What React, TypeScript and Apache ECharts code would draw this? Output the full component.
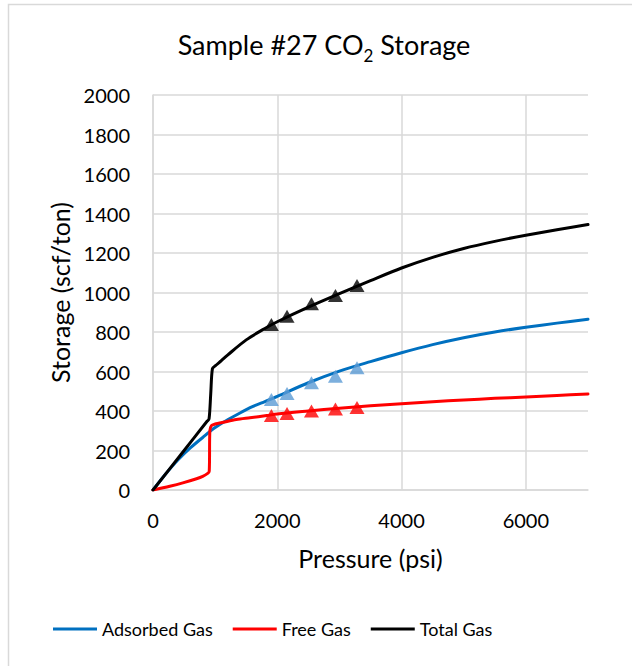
import React, { useEffect, useRef } from "react";
import * as echarts from "echarts";

// Pressure (psi) / storage (scf/ton) pairs for each modelled curve
const adsorbedPressure = [0, 200, 400, 600, 800, 1000, 1200, 1400, 1600, 1800, 2000, 2500, 3000, 3500, 4000, 4500, 5000, 5500, 6000, 6500, 7000];
const adsorbedStorage = [0, 80, 152, 213, 266, 316, 355, 390, 422, 448, 474, 543, 602, 650, 695, 736, 771, 800, 824, 845, 865];

const freePressure = [0, 270, 480, 700, 800, 880, 905, 915, 940, 1000, 1130, 1340, 1560, 1830, 2000, 2500, 3000, 3500, 4000, 4500, 5000, 5500, 6000, 6500, 7000];
const freeStorage = [0, 19, 36, 57, 69, 84, 95, 300, 326, 334, 343, 357, 366, 377, 385, 400, 414, 426, 437, 447, 456, 464, 471, 479, 486];

const totalPressure = [0, 450, 870, 902, 929, 956, 1000, 1100, 1200, 1500, 1800, 2000, 2500, 3000, 3500, 4000, 4500, 5000, 5500, 6000, 6500, 7000];
const totalStorage = [0, 180, 348, 360, 487, 614, 628, 655, 683, 760, 818, 852, 926, 994, 1060, 1124, 1178, 1223, 1259, 1290, 1318, 1344];

// Measured points
const measuredPressure = [1905, 2157, 2550, 2936, 3283];
const measuredAdsorbed = [458, 489, 543, 576, 619];
const measuredFree = [377, 387, 400, 410, 418];
const measuredTotal = [838, 880, 943, 985, 1035];

const legendNames = ["Adsorbed Gas", "Free Gas", "Total Gas"];
const xTicks = { min: 0, max: 7000, interval: 2000 };
const yTicks = { min: 0, max: 2000, interval: 200 };

const FONT = "Lato";
const GRID = "#d9d9d9";

const pairs = (xs: number[], ys: number[]) => xs.map((x, i) => [x, ys[i]]);
const plain = (v: number) => String(v);

export default function App() {
  const ref = useRef<HTMLDivElement>(null);

  useEffect(() => {
    document.body.style.margin = "0";
    const chart = echarts.init(ref.current!, undefined, { renderer: "svg" });

    const curve = (name: string, xs: number[], ys: number[], color: string) => ({
      name,
      type: "line",
      data: pairs(xs, ys),
      symbol: "none",
      showSymbol: false,
      smooth: 0.3,
      lineStyle: { color, width: 3, cap: "round", join: "round" },
      itemStyle: { color },
      z: 2,
    });
    const marks = (name: string, ys: number[], color: string) => ({
      name,
      type: "scatter",
      data: pairs(measuredPressure, ys),
      symbol: "triangle",
      symbolSize: [15, 13],
      itemStyle: { color },
      z: 3,
    });

    chart.setOption({
      animation: false,
      backgroundColor: "#ffffff",
      textStyle: { fontFamily: FONT },
      grid: { left: 153, top: 95, width: 435, height: 395 },
      graphic: [
        {
          type: "rect",
          shape: { x: 8.5, y: 4.5, width: 800, height: 800 },
          style: { fill: "none", stroke: GRID, lineWidth: 1.5 },
          silent: true,
        },
        {
          type: "text",
          x: 324,
          y: 44,
          style: {
            text: "Sample #27 CO{sub|2} Storage",
            fontFamily: FONT,
            fontSize: 27,
            fill: "#000",
            align: "center",
            verticalAlign: "middle",
            lineHeight: 40,
            rich: {
              sub: { fontFamily: FONT, fontSize: 17, lineHeight: 18, verticalAlign: "bottom", fill: "#000" },
            },
          },
        },
      ],
      legend: {
        data: legendNames,
        icon: "rect",
        left: 53,
        top: 620,
        padding: 0,
        itemWidth: 44,
        itemHeight: 3,
        itemGap: 20,
        textStyle: { fontFamily: FONT, fontSize: 18, color: "#000" },
      },
      xAxis: {
        type: "value",
        ...xTicks,
        name: "Pressure (psi)",
        nameLocation: "middle",
        nameGap: 55,
        nameTextStyle: { fontFamily: FONT, fontSize: 25, color: "#000" },
        axisLine: { show: true, lineStyle: { color: GRID, width: 1.5 } },
        axisTick: { show: false },
        axisLabel: { fontFamily: FONT, fontSize: 20, color: "#000", margin: 20, showMaxLabel: false, formatter: plain },
        splitLine: { show: true, showMaxLine: false, lineStyle: { color: GRID, width: 1.5 } },
      },
      yAxis: {
        type: "value",
        ...yTicks,
        name: "Storage (scf/ton)",
        nameLocation: "middle",
        nameGap: 81,
        nameTextStyle: { fontFamily: FONT, fontSize: 25, color: "#000" },
        axisLine: { show: true, lineStyle: { color: GRID, width: 1.5 } },
        axisTick: { show: false },
        axisLabel: { fontFamily: FONT, fontSize: 20, color: "#000", margin: 23, formatter: plain },
        splitLine: { show: true, lineStyle: { color: GRID, width: 1.5 } },
      },
      series: [
        curve(legendNames[0], adsorbedPressure, adsorbedStorage, "#0070c0"),
        curve(legendNames[1], freePressure, freeStorage, "#ff0000"),
        curve(legendNames[2], totalPressure, totalStorage, "#000000"),
        marks("Adsorbed Gas (measured)", measuredAdsorbed, "#5b9bd5"),
        marks("Free Gas (measured)", measuredFree, "#ff0000"),
        marks("Total Gas (measured)", measuredTotal, "#000000"),
      ],
    });

    return () => chart.dispose();
  }, []);

  return <div ref={ref} style={{ width: 632, height: 666 }} />;
}
